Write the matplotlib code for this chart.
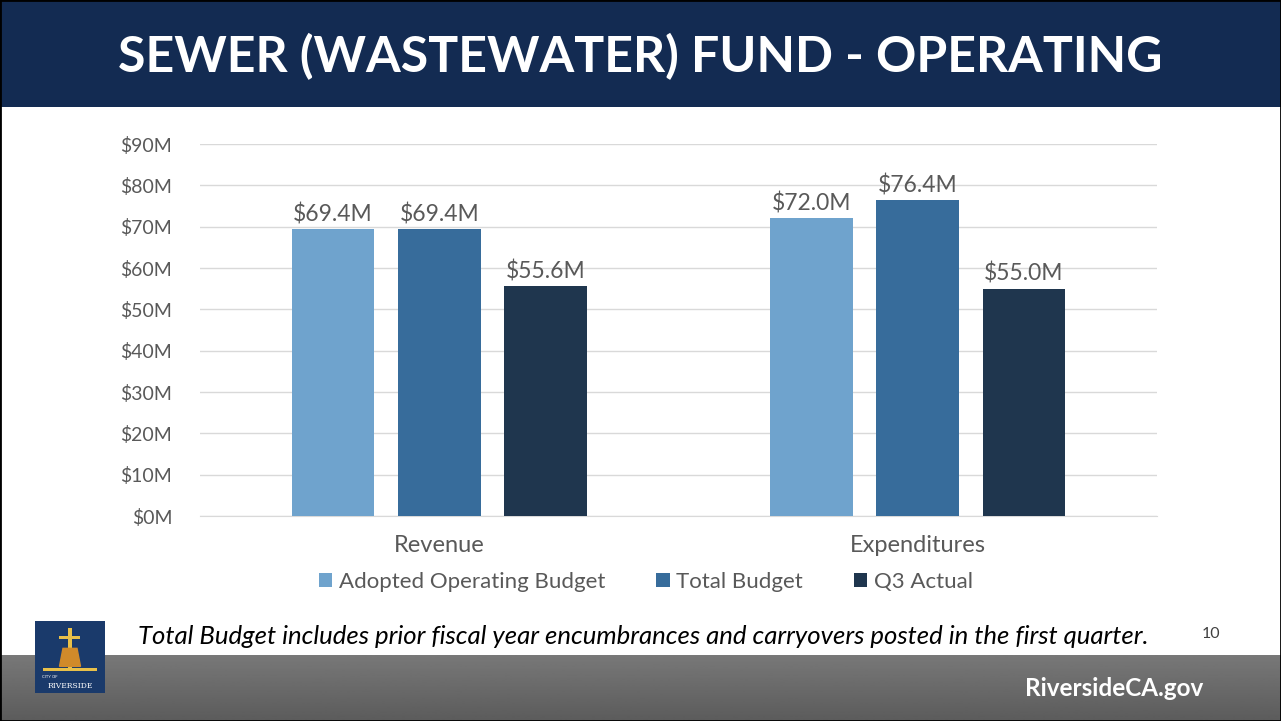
import matplotlib
matplotlib.use('Agg')
import matplotlib.pyplot as plt
import numpy as np
from matplotlib.patches import Rectangle

## Dados do gráfico
categorias = ['Revenue', 'Expenditures']
series = ['Adopted Operating Budget', 'Total Budget', 'Q3 Actual']
adotado = [69.4, 72.0]
total = [69.4, 76.4]
q3_real = [55.6, 55.0]
cores = ['#6FA3CD', '#376C9B', '#1F364E']
yticks = list(range(0, 100, 10))

plt.rcParams['font.family'] = ['Lato', 'DejaVu Sans']
cinza = '#595959'

fig = plt.figure(figsize=(12.81, 7.21), dpi=100)
fig.patch.set_facecolor('white')

## Faixa do título
fig.patches.append(Rectangle((0, 1 - 107 / 721), 1, 107 / 721, transform=fig.transFigure,
                             facecolor='#132B52', edgecolor='none', zorder=0))
fig.text(0.5, 1 - 57 / 721, 'SEWER (WASTEWATER) FUND - OPERATING', ha='center', va='center',
         color='white', fontsize=36, fontweight='bold')

## Rodapé cinza
grad = np.linspace(0.47, 0.36, 50).reshape(-1, 1)
ax_rod = fig.add_axes([0, 0, 1, 66 / 721])
ax_rod.imshow(np.repeat(grad, 2, axis=1), cmap='gray', vmin=0, vmax=1, aspect='auto', extent=[0, 1, 0, 1])
ax_rod.axis('off')
fig.text(1203 / 1281, 1 - 688 / 721, 'RiversideCA.gov', ha='right', va='center', color='white',
         fontsize=17.5, fontweight='bold')

## Logo simplificado
ax_logo = fig.add_axes([35 / 1281, 1 - 693 / 721, 70 / 1281, 72 / 721])
ax_logo.set_xlim(0, 1)
ax_logo.set_ylim(0, 1)
ax_logo.add_patch(Rectangle((0, 0), 1, 1, facecolor='#1A3A6B'))
ax_logo.add_patch(Rectangle((0.12, 0.3), 0.76, 0.05, facecolor='#E8C04A'))
ax_logo.add_patch(Rectangle((0.47, 0.35), 0.06, 0.55, facecolor='#E8C04A'))
ax_logo.add_patch(Rectangle((0.35, 0.75), 0.3, 0.04, facecolor='#E8C04A'))
ax_logo.fill([0.35, 0.4, 0.6, 0.65], [0.37, 0.62, 0.62, 0.37], color='#D08A2A')
ax_logo.text(0.5, 0.1, 'RIVERSIDE', ha='center', va='center', color='white', fontsize=5.5,
             family='DejaVu Serif')
ax_logo.text(0.1, 0.22, 'CITY OF', ha='left', va='center', color='white', fontsize=3)
ax_logo.axis('off')

## Nota e número do slide
fig.text(138 / 1281, 1 - 636 / 721,
         'Total Budget includes prior fiscal year encumbrances and carryovers posted in the first quarter.',
         ha='left', va='center', color='black', fontsize=18.5, style='italic')
fig.text(1211 / 1281, 1 - 634 / 721, '10', ha='center', va='center', color='#404040', fontsize=11.5)

## Gráfico de barras
ax = fig.add_axes([200 / 1281, 1 - 516 / 721, 957 / 1281, 372 / 721])
x = np.arange(len(categorias))
largura = 0.173
passo = 0.222
for i, (valores, nome) in enumerate(zip([adotado, total, q3_real], series)):
    pos = x + (i - 1) * passo
    barras = ax.bar(pos, valores, largura, color=cores[i], label=nome, zorder=3)
    for b, v in zip(barras, valores):
        ax.text(b.get_x() + b.get_width() / 2, v + 0.9, f'${v:.1f}M', ha='center', va='bottom',
                color=cinza, fontsize=16.5)

ax.set_xlim(-0.5, 1.5)
ax.set_ylim(0, 90)
ax.set_yticks(yticks)
ax.set_yticklabels([f'${t}M' for t in yticks], color=cinza, fontsize=14)
ax.set_xticks(x)
ax.set_xticklabels(categorias, color=cinza, fontsize=17)
ax.tick_params(axis='x', length=0, pad=14)
ax.tick_params(axis='y', length=0, pad=20)
ax.grid(axis='y', color='#D9D9D9', linewidth=1, zorder=0)
for lado in ['top', 'right', 'left']:
    ax.spines[lado].set_visible(False)
ax.spines['bottom'].set_color('#D9D9D9')

leg = ax.legend(loc='upper center', bbox_to_anchor=(0.466, -0.097), ncol=3, frameon=False,
                fontsize=16, handlelength=0.6, handleheight=0.6, handletextpad=0.3, columnspacing=2.3)
for t in leg.get_texts():
    t.set_color(cinza)

## Borda do slide
fig.patches.append(Rectangle((0, 0), 1, 1, transform=fig.transFigure, fill=False,
                             edgecolor='black', linewidth=2, zorder=10))

fig.savefig('out.png', dpi=100)
